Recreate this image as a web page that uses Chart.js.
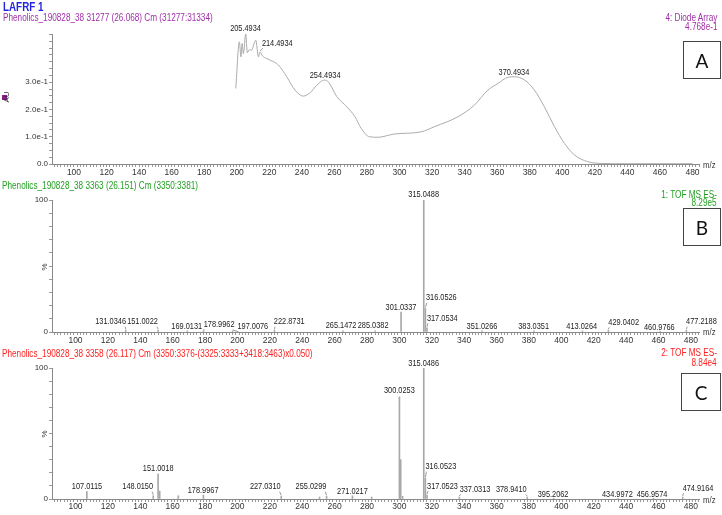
<!DOCTYPE html>
<html lang="en">
<head>
<meta charset="utf-8">
<title>LAFRF 1</title>
<script src="https://cdn.jsdelivr.net/npm/chart.js@4.4.1/dist/chart.umd.min.js"></script>
<style>
  body { margin: 0; background: #fff; }
  #page { position: relative; width: 722px; height: 515px; overflow: hidden;
          font-family: "Liberation Sans", Arial, sans-serif; color: #222; }
  canvas { position: absolute; left: 0; }
  /* police etroite : on compresse horizontalement */
  .t { position: absolute; white-space: nowrap; line-height: 1; font-size: 10px;
       transform: translateY(-50%) scaleX(0.82); transform-origin: left center; }
  .r { right: 5px; text-align: right; transform-origin: right center; }
  .mz { left: 703px; font-size: 9.5px; color: #333; }
  .box { position: absolute; width: 38px; height: 38px; border: 1.5px solid #444; box-sizing: border-box;
         display: flex; align-items: center; justify-content: center;
         font-family: Lato, sans-serif; font-size: 19px; color: #111; }
  .rot { position: absolute; transform: translate(-50%, -50%) rotate(-90deg); font-size: 8px; line-height: 1; color: #333; }
</style>
</head>
<body>
<div id="page">
  <canvas id="graph-a" width="722" height="185" style="top:0px"></canvas>
  <canvas id="graph-b" width="722" height="165" style="top:185px"></canvas>
  <canvas id="graph-c" width="722" height="165" style="top:350px"></canvas>

  <div class="t" style="left:3px; top:7px; font-size:12px; font-weight:bold; color:#2424e0">LAFRF 1</div>
  <div class="t" style="left:3px; top:18px; color:#a030a8">Phenolics_190828_38 31277 (26.068) Cm (31277:31334)</div>
  <div class="t r" style="top:18px; color:#a030a8">4: Diode Array</div>
  <div class="t r" style="top:27px; color:#a030a8">4.768e-1</div>
  <div class="t mz" style="top:165px">m/z</div>
  <div class="box" style="left:683px; top:41px">A</div>
  <div style="position:absolute; left:2px; top:95px; width:5px; height:5px; background:#8a1a8a"></div>
  <div class="rot" style="left:7px; top:97px">AU</div>

  <div class="t" style="left:2px; top:186px; color:#23a023">Phenolics_190828_38 3363 (26.151) Cm (3350:3381)</div>
  <div class="t r" style="top:195px; color:#23a023">1: TOF MS ES-</div>
  <div class="t r" style="top:203px; color:#23a023">8.29e5</div>
  <div class="t mz" style="top:332px">m/z</div>
  <div class="box" style="left:683px; top:208px">B</div>
  <div class="rot" style="left:45px; top:267px">%</div>

  <div class="t" style="left:2px; top:354px; color:#ff2020">Phenolics_190828_38 3358 (26.117) Cm (3350:3376-(3325:3333+3418:3463)x0.050)</div>
  <div class="t r" style="top:353px; color:#ff2020">2: TOF MS ES-</div>
  <div class="t r" style="top:363px; color:#ff2020">8.84e4</div>
  <div class="t mz" style="top:500px">m/z</div>
  <div class="box" style="left:681px; top:373px; width:40px">C</div>
  <div class="rot" style="left:45px; top:434px">%</div>
</div>

<script>
// A : spectre UV (diode array)
const uvWavelength = [199.4, 201.6, 202.6, 203.3, 204.1, 205.5, 206.5, 207.8, 209.0, 211.7, 213.3, 214.3,
  216.0, 218.4, 220.5, 225.6, 230.7, 235.8, 240.9, 245.0, 249.2, 253.9, 256.3, 261.5, 267.6, 272.7,
  276.4, 281.5, 286.6, 296.9, 313.3, 321.5, 335.8, 346.0, 354.3, 360.4, 366.6, 370.6, 376.8, 382.9,
  389.0, 395.2, 401.3, 407.5, 415.7, 423.9, 440, 460, 480];
const uvAbsorbance = [0.277, 0.448, 0.393, 0.442, 0.405, 0.4768, 0.408, 0.420, 0.417, 0.454, 0.393, 0.411,
  0.395, 0.387, 0.381, 0.363, 0.320, 0.271, 0.249, 0.261, 0.289, 0.308, 0.301, 0.247, 0.210, 0.173,
  0.131, 0.100, 0.098, 0.110, 0.118, 0.137, 0.173, 0.216, 0.271, 0.295, 0.318, 0.320, 0.308, 0.271,
  0.210, 0.137, 0.076, 0.033, 0.0085, 0.002, 0.001, 0.001, 0.001];
const uvLabelMz = [205.4934, 214.4934, 254.4934, 370.4934];
const uvLabelPeak = [0.4768, 0.411, 0.308, 0.320];
const uvLabelAt = [205.4, 224.9, 254.3, 370.3];       // centre du texte (nm)
const uvLabelLevel = [0.498, 0.443, 0.324, 0.335];     // centre du texte (AU)
const uvMax = 0.4768;
const uvTickLabels = ['0.0', '1.0e-1', '2.0e-1', '3.0e-1'];

// B : TOF MS ES- 8.29e5
const mzB = [131.0346, 151.0022, 169.0131, 178.9962, 197.0076, 222.8731, 265.1472, 285.0382, 301.0337,
  315.0488, 316.0526, 317.0534, 351.0266, 383.0351, 413.0264, 429.0402, 460.9766, 477.2188];
const intB = [1.5, 1.5, 0.8, 1.0, 0.8, 1.2, 0.9, 0.9, 15, 100, 18, 3.2, 0.8, 0.8, 0.8, 1.5, 0.6, 1.2];
const labelMzB = mzB;
const labelAtB = [121.7, 141.4, 168.7, 188.7, 209.5, 232.0, 264.0, 283.8, 301.0, 315.0, 325.9, 326.5,
  351.0, 382.9, 412.6, 438.5, 460.5, 486.5];
const labelLevelB = [7.8, 7.8, 4.0, 5.3, 4.0, 7.8, 4.8, 4.8, 18.9, 103.8, 26, 10.4, 4.0, 4.0, 4.0, 7.3, 3.3, 7.8];

// C : TOF MS ES- 8.84e4 (soustrait)
const mzC = [107.0115, 148.0150, 151.0018, 152.0, 163.5, 178.9967, 227.0310, 250.7, 255.0299, 271.0217,
  282.9, 300.0253, 300.8, 302.0, 315.0486, 316.0523, 317.0523, 337.0313, 378.9410, 395.2062, 434.9972,
  456.9574, 474.9164];
const intC = [5.6, 2.5, 19, 6, 2.5, 3, 2, 1.5, 2, 2.5, 1.5, 78, 30, 2, 100, 16, 3, 1.5, 1.5, 0.6, 0.6, 0.6, 1.5];
const labelMzC = [107.0115, 148.0150, 151.0018, 178.9967, 227.0310, 255.0299, 271.0217, 300.0253,
  315.0486, 316.0523, 317.0523, 337.0313, 378.9410, 395.2062, 434.9972, 456.9574, 474.9164];
const labelAtC = [107.1, 138.4, 151.1, 178.8, 217.2, 245.4, 271.0, 300.0, 315.0, 325.6, 326.6, 346.7,
  369.1, 394.9, 434.6, 456.0, 484.4];
const labelLevelC = [9.4, 9.4, 22.9, 6.3, 9.4, 9.4, 5.6, 82.7, 103.6, 24.7, 9.9, 7.4, 7.4, 3.1, 3.1, 3.1, 8.2];

const xMin = 86.5, xMax = 484;
const FONT = '"Liberation Sans", Arial, sans-serif';
const NARROW = 0.82;

// textes des pics + traits de rappel
const peakLabels = {
  id: 'peakLabels',
  afterDatasetsDraw(chart, args, opts) {
    const { ctx, scales: { x, y } } = chart;
    ctx.save();
    ctx.font = '9px ' + FONT;
    ctx.fillStyle = '#222';
    ctx.strokeStyle = '#999';
    ctx.lineWidth = 1;
    ctx.textAlign = 'center';
    ctx.textBaseline = 'middle';
    opts.items.forEach(it => {
      const text = it.mz.toFixed(4);
      const lx = x.getPixelForValue(it.at), ly = y.getPixelForValue(it.level);
      const px = x.getPixelForValue(it.mz), py = y.getPixelForValue(it.peak);
      ctx.save();
      ctx.scale(NARROW, 1);
      ctx.fillText(text, lx / NARROW, ly);
      ctx.restore();
      if (Math.abs(lx - px) > 5) {
        const w = ctx.measureText(text).width * NARROW;
        const sx = px < lx ? lx - w / 2 + 1 : lx + w / 2 - 1;
        ctx.beginPath();
        ctx.moveTo(sx, ly + 5);
        ctx.lineTo(px, py - 1);
        ctx.stroke();
      }
    });
    ctx.restore();
  }
};

function xTicks(axis) {
  const t = [];
  for (let v = 88; v <= xMax; v += 2) t.push({ value: v });
  axis.ticks = t;
}

function xScale(height, pad) {
  return {
    type: 'linear', min: xMin, max: xMax,
    afterBuildTicks: xTicks,
    afterFit: s => { s.height = height; },
    grid: { drawOnChartArea: false, tickLength: 3, color: '#999' },
    border: { color: '#888' },
    ticks: {
      autoSkip: false, maxRotation: 0, padding: pad, color: '#333',
      font: { family: FONT, size: 8.5 },
      callback: v => (v % 20 === 0 ? v : '')
    }
  };
}

function yScale(max, step, label) {
  return {
    min: 0, max: max,
    afterBuildTicks: axis => {
      const t = [];
      for (let i = 0; i * step <= max + 1e-9; i++) t.push({ value: i * step });
      axis.ticks = t;
    },
    afterFit: s => { s.width = 52; },
    grid: { drawOnChartArea: false, tickLength: 3, color: '#999' },
    border: { color: '#888' },
    ticks: { autoSkip: false, padding: 1, color: '#333', font: { family: FONT, size: 8 }, callback: label }
  };
}

function items(mzs, at, level, peaks) {
  return mzs.map((m, i) => ({ mz: m, at: at[i], level: level[i], peak: peaks[i] }));
}

function msChart(id, mz, inten, labelMz, labelAt, labelLevel, top, xh, pad) {
  const peaks = labelMz.map(m => inten[mz.indexOf(m)]);
  return new Chart(document.getElementById(id), {
    type: 'bar',
    data: {
      datasets: [{
        data: mz.map((m, i) => ({ x: m, y: inten[i] })),
        backgroundColor: '#a8a8a8',
        barThickness: 1
      }]
    },
    options: {
      responsive: false, animation: false, devicePixelRatio: 1,
      layout: { padding: { top: top, right: 23, left: 0, bottom: 0 } },
      plugins: {
        legend: { display: false }, tooltip: { enabled: false },
        peakLabels: { items: items(labelMz, labelAt, labelLevel, peaks) }
      },
      scales: {
        x: xScale(xh, pad),
        y: yScale(100, 10, v => (v === 0 || v === 100 ? v : ''))
      }
    },
    plugins: [peakLabels]
  });
}

// A
new Chart(document.getElementById('graph-a'), {
  type: 'line',
  data: {
    datasets: [{
      data: uvWavelength.map((w, i) => ({ x: w, y: uvAbsorbance[i] })),
      borderColor: '#ababab',
      borderWidth: 1,
      pointRadius: 0,
      cubicInterpolationMode: 'monotone'
    }]
  },
  options: {
    responsive: false, animation: false, devicePixelRatio: 1,
    layout: { padding: { top: 34, right: 23, left: 0, bottom: 0 } },
    plugins: {
      legend: { display: false }, tooltip: { enabled: false },
      peakLabels: { items: items(uvLabelMz, uvLabelAt, uvLabelLevel, uvLabelPeak) }
    },
    scales: {
      x: xScale(21, 1),
      y: yScale(uvMax, 0.025, (v, i) => (i % 4 === 0 && uvTickLabels[i / 4]) || '')
    }
  },
  plugins: [peakLabels]
});

// B et C
msChart('graph-b', mzB, intB, labelMzB, labelAtB, labelLevelB, 15, 18, 1);
msChart('graph-c', mzC, intC, labelMzC, labelAtC, labelLevelC, 18, 16, 0);
</script>
</body>
</html>
